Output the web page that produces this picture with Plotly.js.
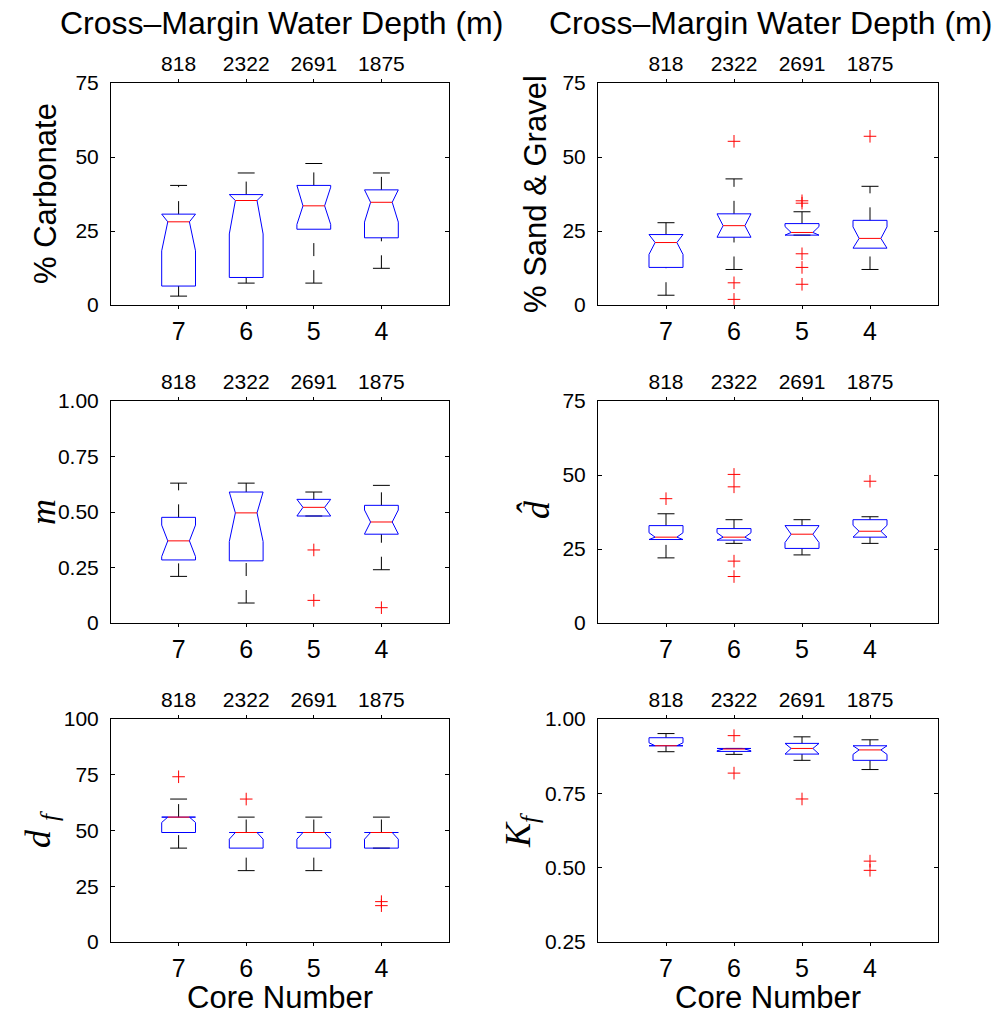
<!DOCTYPE html>
<html><head><meta charset="utf-8">
<script src="https://cdn.plot.ly/plotly-3.0.1.min.js"></script>
<style>html,body{margin:0;padding:0;background:#fff}#chart{width:995px;height:1017px}</style>
</head><body><div id="chart"></div>
<script>
// ---------- data ----------
const corePositions = [1, 2, 3, 4];
const coreLabels = ['7', '6', '5', '4'];
const depthLabels = ['818', '2322', '2691', '1875'];

// % Carbonate
const carbLo    = [3.0, 7.4, 7.4, 12.4];
const carbQ1    = [6.4, 9.3, 25.6, 22.7];
const carbMed   = [28.1, 35.3, 33.5, 34.7];
const carbQ3    = [30.7, 37.3, 40.4, 38.9];
const carbHi    = [40.4, 44.6, 47.8, 44.6];
const carbNotch = [9.8, 11.3, 6.3, 6.7];
const carbOut   = [[], [], [], []];

// % Sand & Gravel
const sandLo    = [3.3, 12.0, 23.6, 12.0];
const sandQ1    = [12.7, 22.9, 23.6, 19.2];
const sandMed   = [21.1, 26.8, 24.5, 22.5];
const sandQ3    = [23.8, 30.8, 27.5, 28.6];
const sandHi    = [27.8, 42.6, 31.5, 40.1];
const sandNotch = [4.0, 4.5, 2.0, 3.9];
const sandOut   = [[], [55.3, 7.5, 1.9], [35.2, 34.4, 17.3, 12.7, 7.0], [57.0]];

// m
const mLo    = [0.210, 0.090, 0.482, 0.240];
const mQ1    = [0.284, 0.280, 0.482, 0.400];
const mMed   = [0.370, 0.496, 0.521, 0.455];
const mQ3    = [0.476, 0.590, 0.557, 0.530];
const mHi    = [0.630, 0.630, 0.590, 0.620];
const mNotch = [0.071, 0.129, 0.060, 0.054];
const mOut   = [[], [], [0.329, 0.102], [0.069]];

// d-hat
const dhLo    = [22.0, 26.9, 23.0, 26.9];
const dhQ1    = [28.2, 28.0, 25.2, 29.0];
const dhMed   = [29.0, 29.0, 30.0, 31.0];
const dhQ3    = [32.9, 31.9, 32.9, 34.9];
const dhHi    = [36.9, 34.9, 34.9, 35.9];
const dhNotch = [1.5, 1.5, 2.8, 2.0];
const dhOut   = [[42.0], [50.2, 46.0, 20.9, 15.7], [], [47.9]];

// d_f
const dfLo    = [42.1, 32.0, 32.0, 42.1];
const dfQ1    = [49.1, 42.1, 42.1, 42.1];
const dfMed   = [56.0, 49.1, 49.1, 49.1];
const dfQ3    = [56.0, 49.1, 49.1, 49.1];
const dfHi    = [64.1, 56.0, 56.0, 56.0];
const dfNotch = [2.4, 3.0, 3.0, 3.0];
const dfOut   = [[74.1], [64.1], [], [18.1, 16.3]];

// K_f
const kfLo    = [0.890, 0.881, 0.861, 0.830];
const kfQ1    = [0.910, 0.891, 0.882, 0.861];
const kfMed   = [0.910, 0.899, 0.901, 0.896];
const kfQ3    = [0.937, 0.901, 0.918, 0.910];
const kfHi    = [0.951, 0.901, 0.940, 0.930];
const kfNotch = [0.010, 0.006, 0.020, 0.015];
const kfOut   = [[], [0.944, 0.818], [0.731], [0.522, 0.491]];

// tick labels
const ticks0to75 = [0, 25, 50, 75];
const ticks0to75Text = ['0', '25', '50', '75'];
const ticks0to1 = [0, 0.25, 0.5, 0.75, 1];
const ticks0to1Text = ['0', '0.25', '0.50', '0.75', '1.00'];
const ticks0to100 = [0, 25, 50, 75, 100];
const ticks0to100Text = ['0', '25', '50', '75', '100'];
const ticksKf = [0.25, 0.5, 0.75, 1];
const ticksKfText = ['0.25', '0.50', '0.75', '1.00'];

const colTitle = 'Cross–Margin Water Depth (m)';
const xTitle = 'Core Number';

// ---------- layout helpers ----------
const W = 995, H = 1017;
const px = v => v / W;
const py = v => 1 - v / H;
const SANS = 'Liberation Sans, Arial, Helvetica, sans-serif';
const SERIF = 'Liberation Serif, Times New Roman, serif';

const colX = [[111, 449], [598, 938]];
const rowY = [[83, 305], [401, 623], [719, 942]];

const panels = [
  {lo: carbLo, q1: carbQ1, med: carbMed, q3: carbQ3, hi: carbHi, notch: carbNotch, out: carbOut,
   range: [0, 75], tv: ticks0to75, tt: ticks0to75Text, col: 0, row: 0},
  {lo: sandLo, q1: sandQ1, med: sandMed, q3: sandQ3, hi: sandHi, notch: sandNotch, out: sandOut,
   range: [0, 75], tv: ticks0to75, tt: ticks0to75Text, col: 1, row: 0},
  {lo: mLo, q1: mQ1, med: mMed, q3: mQ3, hi: mHi, notch: mNotch, out: mOut,
   range: [0, 1], tv: ticks0to1, tt: ticks0to1Text, col: 0, row: 1},
  {lo: dhLo, q1: dhQ1, med: dhMed, q3: dhQ3, hi: dhHi, notch: dhNotch, out: dhOut,
   range: [0, 75], tv: ticks0to75, tt: ticks0to75Text, col: 1, row: 1},
  {lo: dfLo, q1: dfQ1, med: dfMed, q3: dfQ3, hi: dfHi, notch: dfNotch, out: dfOut,
   range: [0, 100], tv: ticks0to100, tt: ticks0to100Text, col: 0, row: 2},
  {lo: kfLo, q1: kfQ1, med: kfMed, q3: kfQ3, hi: kfHi, notch: kfNotch, out: kfOut,
   range: [0.25, 1], tv: ticksKf, tt: ticksKfText, col: 1, row: 2}
];

const BW = 0.25;   // box half width (x units)
const NW = 0.16;   // notch half width
const CW = 0.125;  // cap half width

const traces = [];
const layout = {
  width: W, height: H,
  margin: {l: 0, r: 0, t: 0, b: 0},
  paper_bgcolor: '#fff', plot_bgcolor: '#fff',
  showlegend: false,
  font: {family: SANS, color: '#000'},
  annotations: []
};

panels.forEach((p, i) => {
  const n = i + 1;
  const xn = n === 1 ? 'x' : 'x' + n;
  const yn = n === 1 ? 'y' : 'y' + n;
  const xtopN = 'x' + (n + 6);
  const xa = n === 1 ? 'xaxis' : 'xaxis' + n;
  const ya = n === 1 ? 'yaxis' : 'yaxis' + n;
  const xtopA = 'xaxis' + (n + 6);
  const dx = [px(colX[p.col][0]), px(colX[p.col][1])];
  const dy = [py(rowY[p.row][1]), py(rowY[p.row][0])];

  const wx = [], wy = [], cx = [], cy = [], bx = [], by = [], mx = [], my = [], ox = [], oy = [];
  corePositions.forEach((pos, k) => {
    const q1 = p.q1[k], q3 = p.q3[k], med = p.med[k], lo = p.lo[k], hi = p.hi[k];
    const nlo = Math.max(med - p.notch[k], q1);
    const nhi = Math.min(med + p.notch[k], q3);
    if (lo < q1) { wx.push(pos, pos, null); wy.push(lo, q1, null); }
    if (hi > q3) { wx.push(pos, pos, null); wy.push(q3, hi, null); }
    cx.push(pos - CW, pos + CW, null, pos - CW, pos + CW, null);
    cy.push(lo, lo, null, hi, hi, null);
    bx.push(pos - BW, pos - BW, pos - NW, pos - BW, pos - BW, pos + BW, pos + BW, pos + NW, pos + BW, pos + BW, pos - BW, null);
    by.push(q1, nlo, med, nhi, q3, q3, nhi, med, nlo, q1, q1, null);
    mx.push(pos - NW, pos + NW, null);
    my.push(med, med, null);
    p.out[k].forEach(v => { ox.push(pos); oy.push(v); });
  });

  const common = {xaxis: xn, yaxis: yn, hoverinfo: 'skip', type: 'scatter'};
  traces.push(Object.assign({mode: 'lines', x: wx, y: wy, line: {color: '#000', width: 1, dash: '13px,14px'}}, common));
  traces.push(Object.assign({mode: 'lines', x: cx, y: cy, line: {color: '#000', width: 1}}, common));
  traces.push(Object.assign({mode: 'lines', x: bx, y: by, line: {color: '#0000ff', width: 1}}, common));
  traces.push(Object.assign({mode: 'lines', x: mx, y: my, line: {color: '#ff0000', width: 1}}, common));
  if (ox.length) {
    traces.push(Object.assign({mode: 'markers', x: ox, y: oy,
      marker: {symbol: 'cross-thin-open', size: 9, color: '#ff0000', line: {color: '#ff0000', width: 1}}}, common));
  }
  traces.push({type: 'scatter', mode: 'markers', x: corePositions, y: p.med, xaxis: xtopN, yaxis: yn,
    marker: {opacity: 0}, hoverinfo: 'skip'});

  layout[xa] = {
    domain: dx, anchor: yn, range: [0, 5], fixedrange: true,
    tickmode: 'array', tickvals: corePositions, ticktext: coreLabels,
    ticks: 'outside', ticklen: 3, tickwidth: 1, tickcolor: '#000',
    ticklabelstandoff: 1,
    showline: true, linecolor: '#000', linewidth: 1, mirror: true,
    showgrid: false, zeroline: false,
    tickfont: {family: SANS, size: 25, color: '#000'}
  };
  layout[xtopA] = {
    overlaying: xn, anchor: yn, side: 'top', range: [0, 5], fixedrange: true,
    tickmode: 'array', tickvals: corePositions, ticktext: depthLabels,
    ticks: 'outside', ticklen: 3, tickwidth: 1, tickcolor: '#000',
    showline: false, showgrid: false, zeroline: false,
    tickfont: {family: SANS, size: 21, color: '#000'}
  };
  layout[ya] = {
    domain: dy, anchor: xn, range: p.range, fixedrange: true,
    tickmode: 'array', tickvals: p.tv, ticktext: p.tt,
    ticks: 'inside', ticklen: 4, tickwidth: 1, tickcolor: '#000',
    ticklabelstandoff: 7,
    showline: true, linecolor: '#000', linewidth: 1, mirror: 'ticks',
    showgrid: false, zeroline: false,
    tickfont: {family: SANS, size: 21, color: '#000'}
  };
});

function ann(text, x, y, size, family, angle) {
  layout.annotations.push({
    text: text, xref: 'paper', yref: 'paper', x: px(x), y: py(y),
    xanchor: 'center', yanchor: 'middle', showarrow: false,
    textangle: angle || 0, font: {family: family, size: size, color: '#000'}
  });
}
ann(colTitle, 281, 23, 32, SANS);
ann(colTitle, 770, 23, 32, SANS);
ann(xTitle, 280, 997, 31, SANS);
ann(xTitle, 768, 997, 31, SANS);
ann('% Carbonate', 46, 194, 31, SANS, -90);
ann('% Sand &amp; Gravel', 536, 194, 31, SANS, -90);
ann('<i>m</i>', 43, 512, 36, SERIF, -90);
ann('<i>d\u0302</i>', 537, 510, 36, SERIF, -90);
ann('<i>d</i> <sub><i>f</i></sub>', 40, 830, 36, SERIF, -90);
ann('<i>K</i><sub><i>f</i></sub>', 520, 831, 36, SERIF, -90);

Plotly.newPlot('chart', traces, layout, {staticPlot: true, displayModeBar: false});
</script>
</body></html>
